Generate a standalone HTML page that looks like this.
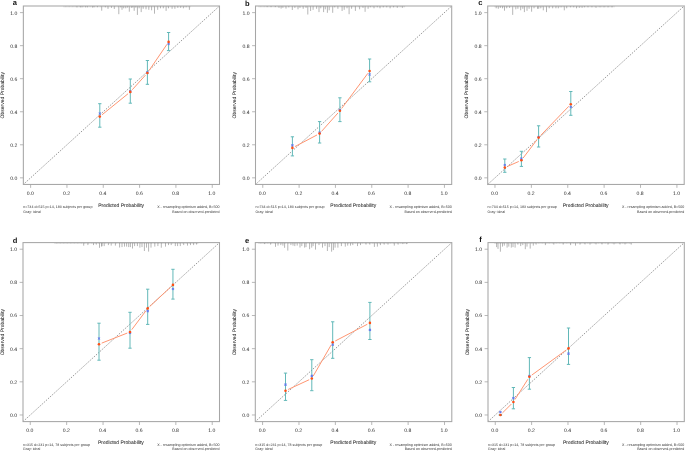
<!DOCTYPE html>
<html><head><meta charset="utf-8"><title>Calibration curves</title><style>
html,body{margin:0;padding:0;background:#fff;width:685px;height:451px;overflow:hidden}
text{font-family:"Liberation Sans",sans-serif;text-rendering:geometricPrecision}
.t{font-size:5px;fill:#2a2a2a;stroke:#2a2a2a;stroke-width:0.05px}
.k{font-size:5.1px;fill:#2a2a2a}
.f{font-size:3.62px;fill:#333}
.L{font-size:7.5px;font-weight:bold;fill:#111}
</style></head><body>
<svg width="685" height="451" viewBox="0 0 685 451" style="display:block;will-change:transform">
<rect width="685" height="451" fill="#fff"/>
<g><path d="M64.00 6.00v1.3M65.40 6.00v1.3M66.80 6.00v1.3M68.20 6.00v1.3M69.60 6.00v1.3M71.00 6.00v1.3M72.40 6.00v1.3M73.80 6.00v1.3M75.20 6.00v1.3M76.60 6.00v1.3M78.00 6.00v1.3M79.40 6.00v1.3M80.80 6.00v1.3M82.20 6.00v1.3M83.60 6.00v1.3M85.00 6.00v1.3M86.40 6.00v1.3M87.80 6.00v1.3M89.20 6.00v1.3M90.60 6.00v1.3M92.00 6.00v1.3M93.40 6.00v1.3M94.80 6.00v1.3M96.20 6.00v1.3M97.60 6.00v1.3M99.00 6.00v1.3M100.40 6.00v1.3M101.80 6.00v1.3M103.20 6.00v1.3M104.60 6.00v1.3M106.00 6.00v1.3M107.40 6.00v1.3M108.80 6.00v1.3M110.20 6.00v1.3M111.60 6.00v1.3M113.00 6.00v1.3M114.40 6.00v1.3M115.80 6.00v1.3M117.20 6.00v1.3M118.60 6.00v1.3M120.00 6.00v1.3M121.40 6.00v1.3M122.80 6.00v1.3M124.20 6.00v1.3M125.60 6.00v1.3M127.00 6.00v1.3M128.40 6.00v1.3M129.80 6.00v1.3M131.20 6.00v1.3M132.60 6.00v1.3M134.00 6.00v1.3M135.40 6.00v1.3M136.80 6.00v1.3M138.20 6.00v1.3M139.60 6.00v1.3M141.00 6.00v1.3M142.40 6.00v1.3M143.80 6.00v1.3M145.20 6.00v1.3M146.60 6.00v1.3M148.00 6.00v1.3M149.40 6.00v1.3M150.80 6.00v1.3M152.20 6.00v1.3M153.60 6.00v1.3M155.00 6.00v1.3M156.40 6.00v1.3M157.80 6.00v1.3M159.20 6.00v1.3M160.60 6.00v1.3M162.00 6.00v1.3M163.40 6.00v1.3M164.80 6.00v1.3M166.20 6.00v1.3M167.60 6.00v1.3M169.00 6.00v1.3M170.40 6.00v1.3M171.80 6.00v1.3M173.20 6.00v1.3M174.60 6.00v1.3M176.00 6.00v1.3M177.40 6.00v1.3M178.80 6.00v1.3M180.20 6.00v1.3M181.60 6.00v1.3M183.00 6.00v1.3M184.40 6.00v1.3M185.80 6.00v1.3M187.20 6.00v1.3M188.60 6.00v1.3M190.00 6.00v1.3" stroke="#b8b8b8" stroke-width="0.6" fill="none"/><path d="M77.00 6.00v1.40M80.50 6.00v1.30M82.00 6.00v1.30M85.50 6.00v1.30M87.50 6.00v1.30M92.50 6.00v1.50M94.00 6.00v1.30M97.50 6.00v1.20M101.70 6.00v4.70M105.50 6.00v1.30M108.00 6.00v2.90M111.50 6.00v1.80M114.30 6.00v3.00M118.80 6.00v8.20M120.60 6.00v1.30M122.00 6.00v3.80M123.70 6.00v2.30M125.80 6.00v2.30M127.50 6.00v1.50M129.30 6.00v5.70M131.40 6.00v1.80M132.80 6.00v1.50M134.20 6.00v4.80M135.80 6.00v1.50M137.40 6.00v8.90M139.10 6.00v2.30M141.20 6.00v6.10M143.20 6.00v2.80M146.00 6.00v3.30M148.80 6.00v3.80M151.60 6.00v4.30M154.50 6.00v7.70M157.70 6.00v3.80M160.50 6.00v2.30M163.30 6.00v2.30M166.10 6.00v4.90M168.50 6.00v2.30M172.10 6.00v2.80M174.90 6.00v2.80M177.80 6.00v1.80M180.60 6.00v1.80M183.40 6.00v2.30M186.20 6.00v1.30M189.40 6.00v3.80" stroke="#858585" stroke-width="0.6" fill="none"/><line x1="23.35" y1="184.45" x2="219.5" y2="6.0" stroke="#7e7e7e" stroke-width="0.85" stroke-dasharray="1.3 1.3"/><rect x="23.35" y="6.0" width="196.15" height="178.45" fill="none" stroke="#a6a6a6" stroke-width="1.05"/><path d="M30.61 184.45v3.4M23.35 177.84h-3.4M66.94 184.45v3.4M23.35 144.79h-3.4M103.26 184.45v3.4M23.35 111.75h-3.4M139.59 184.45v3.4M23.35 78.70h-3.4M175.91 184.45v3.4M23.35 45.66h-3.4M212.24 184.45v3.4M23.35 12.61h-3.4" stroke="#a6a6a6" stroke-width="0.8" fill="none"/><text x="30.21" y="195.15" text-anchor="middle" class="k">0.0</text><text x="17.35" y="179.74" text-anchor="end" class="k">0.0</text><text x="66.54" y="195.15" text-anchor="middle" class="k">0.2</text><text x="17.35" y="146.69" text-anchor="end" class="k">0.2</text><text x="102.86" y="195.15" text-anchor="middle" class="k">0.4</text><text x="17.35" y="113.65" text-anchor="end" class="k">0.4</text><text x="139.19" y="195.15" text-anchor="middle" class="k">0.6</text><text x="17.35" y="80.60" text-anchor="end" class="k">0.6</text><text x="175.51" y="195.15" text-anchor="middle" class="k">0.8</text><text x="17.35" y="47.56" text-anchor="end" class="k">0.8</text><text x="211.84" y="195.15" text-anchor="middle" class="k">1.0</text><text x="17.35" y="14.51" text-anchor="end" class="k">1.0</text><text x="121.12" y="207.05" text-anchor="middle" class="t">Predicted Probability</text><text transform="translate(4.05,95.22) rotate(-90)" text-anchor="middle" class="t">Observed Probability</text><text x="23.25" y="208.45" class="f">n=734 d=515 p=14, 183 subjects per group</text><text x="23.25" y="212.75" class="f">Gray: ideal</text><text x="219.50" y="208.45" text-anchor="end" class="f">X - resampling optimism added, B=500</text><text x="219.50" y="212.75" text-anchor="end" class="f">Based on observed-predicted</text><text x="12.80" y="4.90" class="L">a</text><path d="M102.05 114.77L128.05 93.73M132.25 89.75L145.45 75.15M149.03 70.60L166.97 44.30" stroke="#ff9672" stroke-width="1.0" fill="none"/><path d="M99.80 103.70V127.20M98.15 103.70h3.3M98.15 127.20h3.3M130.30 79.00V103.20M128.65 79.00h3.3M128.65 103.20h3.3M147.40 60.50V84.30M145.75 60.50h3.3M145.75 84.30h3.3M168.60 32.50V50.60M166.95 32.50h3.3M166.95 50.60h3.3" stroke="#62b8b8" stroke-width="1.0" fill="none"/><path d="M98.80 112.50l2.0 2.0M98.80 114.50l2.0 -2.0M129.30 90.40l2.0 2.0M129.30 92.40l2.0 -2.0M146.40 71.40l2.0 2.0M146.40 73.40l2.0 -2.0M167.60 43.00l2.0 2.0M167.60 45.00l2.0 -2.0" stroke="#6076ee" stroke-width="1.05" fill="none"/><circle cx="99.80" cy="116.60" r="1.3" fill="#ff4e14"/><circle cx="130.30" cy="91.90" r="1.3" fill="#ff4e14"/><circle cx="147.40" cy="73.00" r="1.3" fill="#ff4e14"/><circle cx="168.60" cy="41.90" r="1.3" fill="#ff4e14"/></g>
<g><path d="M259.00 6.00v1.3M260.40 6.00v1.3M261.80 6.00v1.3M263.20 6.00v1.3M264.60 6.00v1.3M266.00 6.00v1.3M267.40 6.00v1.3M268.80 6.00v1.3M270.20 6.00v1.3M271.60 6.00v1.3M273.00 6.00v1.3M274.40 6.00v1.3M275.80 6.00v1.3M277.20 6.00v1.3M278.60 6.00v1.3M280.00 6.00v1.3M281.40 6.00v1.3M282.80 6.00v1.3M284.20 6.00v1.3M285.60 6.00v1.3M287.00 6.00v1.3M288.40 6.00v1.3M289.80 6.00v1.3M291.20 6.00v1.3M292.60 6.00v1.3M294.00 6.00v1.3M295.40 6.00v1.3M296.80 6.00v1.3M298.20 6.00v1.3M299.60 6.00v1.3M301.00 6.00v1.3M302.40 6.00v1.3M303.80 6.00v1.3M305.20 6.00v1.3M306.60 6.00v1.3M308.00 6.00v1.3M309.40 6.00v1.3M310.80 6.00v1.3M312.20 6.00v1.3M313.60 6.00v1.3M315.00 6.00v1.3M316.40 6.00v1.3M317.80 6.00v1.3M319.20 6.00v1.3M320.60 6.00v1.3M322.00 6.00v1.3M323.40 6.00v1.3M324.80 6.00v1.3M326.20 6.00v1.3M327.60 6.00v1.3M329.00 6.00v1.3M330.40 6.00v1.3M331.80 6.00v1.3M333.20 6.00v1.3M334.60 6.00v1.3M336.00 6.00v1.3M337.40 6.00v1.3M338.80 6.00v1.3M340.20 6.00v1.3M341.60 6.00v1.3M343.00 6.00v1.3M344.40 6.00v1.3M345.80 6.00v1.3M347.20 6.00v1.3M348.60 6.00v1.3M350.00 6.00v1.3M351.40 6.00v1.3M352.80 6.00v1.3M354.20 6.00v1.3M355.60 6.00v1.3M357.00 6.00v1.3M358.40 6.00v1.3M359.80 6.00v1.3M361.20 6.00v1.3M362.60 6.00v1.3M364.00 6.00v1.3M365.40 6.00v1.3M366.80 6.00v1.3M368.20 6.00v1.3M369.60 6.00v1.3M371.00 6.00v1.3M372.40 6.00v1.3M373.80 6.00v1.3M375.20 6.00v1.3M376.60 6.00v1.3M378.00 6.00v1.3M379.40 6.00v1.3M380.80 6.00v1.3M382.20 6.00v1.3M383.60 6.00v1.3M385.00 6.00v1.3M386.40 6.00v1.3M387.80 6.00v1.3M389.20 6.00v1.3M390.60 6.00v1.3M392.00 6.00v1.3M393.40 6.00v1.3M394.80 6.00v1.3M396.20 6.00v1.3M397.60 6.00v1.3M399.00 6.00v1.3M400.40 6.00v1.3M401.80 6.00v1.3M403.20 6.00v1.3M404.60 6.00v1.3" stroke="#b8b8b8" stroke-width="0.6" fill="none"/><path d="M267.10 6.00v1.10M271.00 6.00v1.10M275.50 6.00v1.10M279.00 6.00v1.80M281.10 6.00v2.60M282.90 6.00v1.80M286.00 6.00v2.60M288.80 6.00v1.30M292.30 6.00v4.00M294.80 6.00v1.80M298.00 6.00v3.30M300.00 6.00v1.80M303.20 6.00v2.80M306.00 6.00v1.80M307.80 6.00v8.50M310.60 6.00v5.00M313.10 6.00v3.80M316.60 6.00v2.80M319.00 6.00v6.10M320.80 6.00v2.30M323.60 6.00v6.10M325.30 6.00v3.30M327.40 6.00v6.80M329.20 6.00v4.30M332.70 6.00v6.80M334.80 6.00v1.30M337.90 6.00v2.80M342.10 6.00v5.00M344.20 6.00v3.80M347.00 6.00v2.30M349.10 6.00v8.20M351.60 6.00v2.80M355.40 6.00v4.90M359.60 6.00v3.30M363.00 6.00v1.80M365.10 6.00v5.80M368.10 6.00v2.80M370.60 6.00v1.30M374.00 6.00v2.30M377.40 6.00v1.30M380.00 6.00v2.30M383.30 6.00v1.30M386.70 6.00v1.30M390.10 6.00v2.30M393.50 6.00v1.30M397.30 6.00v1.80M402.40 6.00v1.80" stroke="#858585" stroke-width="0.6" fill="none"/><line x1="255.5" y1="184.45" x2="451.7" y2="6.0" stroke="#7e7e7e" stroke-width="0.85" stroke-dasharray="1.3 1.3"/><rect x="255.5" y="6.0" width="196.20" height="178.45" fill="none" stroke="#a6a6a6" stroke-width="1.05"/><path d="M262.77 184.45v3.4M255.50 177.84h-3.4M299.10 184.45v3.4M255.50 144.79h-3.4M335.43 184.45v3.4M255.50 111.75h-3.4M371.77 184.45v3.4M255.50 78.70h-3.4M408.10 184.45v3.4M255.50 45.66h-3.4M444.43 184.45v3.4M255.50 12.61h-3.4" stroke="#a6a6a6" stroke-width="0.8" fill="none"/><text x="262.37" y="195.15" text-anchor="middle" class="k">0.0</text><text x="249.50" y="179.74" text-anchor="end" class="k">0.0</text><text x="298.70" y="195.15" text-anchor="middle" class="k">0.2</text><text x="249.50" y="146.69" text-anchor="end" class="k">0.2</text><text x="335.03" y="195.15" text-anchor="middle" class="k">0.4</text><text x="249.50" y="113.65" text-anchor="end" class="k">0.4</text><text x="371.37" y="195.15" text-anchor="middle" class="k">0.6</text><text x="249.50" y="80.60" text-anchor="end" class="k">0.6</text><text x="407.70" y="195.15" text-anchor="middle" class="k">0.8</text><text x="249.50" y="47.56" text-anchor="end" class="k">0.8</text><text x="444.03" y="195.15" text-anchor="middle" class="k">1.0</text><text x="249.50" y="14.51" text-anchor="end" class="k">1.0</text><text x="353.30" y="207.05" text-anchor="middle" class="t">Predicted Probability</text><text transform="translate(236.20,95.22) rotate(-90)" text-anchor="middle" class="t">Observed Probability</text><text x="255.40" y="208.45" class="f">n=734 d=515 p=14, 183 subjects per group</text><text x="255.40" y="212.75" class="f">Gray: ideal</text><text x="451.70" y="208.45" text-anchor="end" class="f">X - resampling optimism added, B=500</text><text x="451.70" y="212.75" text-anchor="end" class="f">Based on observed-predicted</text><text x="244.90" y="5.70" class="L">b</text><path d="M294.97 146.55L317.03 134.95M321.53 131.43L337.97 112.97M341.63 108.48L367.87 73.32" stroke="#ff9672" stroke-width="1.0" fill="none"/><path d="M292.40 136.80V155.90M290.75 136.80h3.3M290.75 155.90h3.3M319.60 121.60V143.00M317.95 121.60h3.3M317.95 143.00h3.3M339.90 97.80V121.60M338.25 97.80h3.3M338.25 121.60h3.3M369.60 59.00V81.80M367.95 59.00h3.3M367.95 81.80h3.3" stroke="#62b8b8" stroke-width="1.0" fill="none"/><path d="M291.40 144.30l2.0 2.0M291.40 146.30l2.0 -2.0M318.60 131.60l2.0 2.0M318.60 133.60l2.0 -2.0M338.90 109.20l2.0 2.0M338.90 111.20l2.0 -2.0M368.60 73.50l2.0 2.0M368.60 75.50l2.0 -2.0" stroke="#6076ee" stroke-width="1.05" fill="none"/><circle cx="292.40" cy="147.90" r="1.3" fill="#ff4e14"/><circle cx="319.60" cy="133.60" r="1.3" fill="#ff4e14"/><circle cx="339.90" cy="110.80" r="1.3" fill="#ff4e14"/><circle cx="369.60" cy="71.00" r="1.3" fill="#ff4e14"/></g>
<g><path d="M495.00 6.00v1.3M496.40 6.00v1.3M497.80 6.00v1.3M499.20 6.00v1.3M500.60 6.00v1.3M502.00 6.00v1.3M503.40 6.00v1.3M504.80 6.00v1.3M506.20 6.00v1.3M507.60 6.00v1.3M509.00 6.00v1.3M510.40 6.00v1.3M511.80 6.00v1.3M513.20 6.00v1.3M514.60 6.00v1.3M516.00 6.00v1.3M517.40 6.00v1.3M518.80 6.00v1.3M520.20 6.00v1.3M521.60 6.00v1.3M523.00 6.00v1.3M524.40 6.00v1.3M525.80 6.00v1.3M527.20 6.00v1.3M528.60 6.00v1.3M530.00 6.00v1.3M531.40 6.00v1.3M532.80 6.00v1.3M534.20 6.00v1.3M535.60 6.00v1.3M537.00 6.00v1.3M538.40 6.00v1.3M539.80 6.00v1.3M541.20 6.00v1.3M542.60 6.00v1.3M544.00 6.00v1.3M545.40 6.00v1.3M546.80 6.00v1.3M548.20 6.00v1.3M549.60 6.00v1.3M551.00 6.00v1.3M552.40 6.00v1.3M553.80 6.00v1.3M555.20 6.00v1.3M556.60 6.00v1.3M558.00 6.00v1.3M559.40 6.00v1.3M560.80 6.00v1.3M562.20 6.00v1.3M563.60 6.00v1.3M565.00 6.00v1.3M566.40 6.00v1.3M567.80 6.00v1.3M569.20 6.00v1.3M570.60 6.00v1.3M572.00 6.00v1.3M573.40 6.00v1.3M574.80 6.00v1.3M576.20 6.00v1.3M577.60 6.00v1.3M579.00 6.00v1.3M580.40 6.00v1.3M581.80 6.00v1.3M583.20 6.00v1.3M584.60 6.00v1.3M586.00 6.00v1.3M587.40 6.00v1.3M588.80 6.00v1.3M590.20 6.00v1.3M591.60 6.00v1.3M593.00 6.00v1.3M594.40 6.00v1.3M595.80 6.00v1.3M597.20 6.00v1.3M598.60 6.00v1.3M600.00 6.00v1.3M601.40 6.00v1.3M602.80 6.00v1.3M604.20 6.00v1.3M605.60 6.00v1.3M607.00 6.00v1.3M608.40 6.00v1.3M609.80 6.00v1.3M611.20 6.00v1.3M612.60 6.00v1.3M614.00 6.00v1.3" stroke="#b8b8b8" stroke-width="0.6" fill="none"/><path d="M496.20 6.00v2.30M498.30 6.00v2.80M500.40 6.00v1.80M502.50 6.00v2.30M504.50 6.00v4.70M506.70 6.00v2.30M509.50 6.00v1.80M512.70 6.00v8.90M515.80 6.00v3.30M517.90 6.00v2.80M520.70 6.00v4.30M522.80 6.00v2.80M524.40 6.00v6.10M527.00 6.00v4.80M529.10 6.00v2.80M531.60 6.00v5.70M534.00 6.00v2.30M537.50 6.00v2.80M538.70 6.00v2.80M540.80 6.00v2.30M543.30 6.00v4.30M546.50 6.00v6.10M549.20 6.00v2.30M552.70 6.00v2.30M555.90 6.00v2.30M558.30 6.00v2.30M561.10 6.00v1.30M564.30 6.00v4.30M566.70 6.00v2.30M570.60 6.00v1.30M573.70 6.00v1.30M576.50 6.00v2.30M579.30 6.00v1.80M582.10 6.00v1.80M584.60 6.00v1.30M588.00 6.00v1.30M592.00 6.00v1.30M596.00 6.00v1.80M600.00 6.00v1.30M604.00 6.00v1.30M608.00 6.00v1.30M612.00 6.00v1.30" stroke="#858585" stroke-width="0.6" fill="none"/><line x1="487.7" y1="184.45" x2="684.2" y2="6.0" stroke="#7e7e7e" stroke-width="0.85" stroke-dasharray="1.3 1.3"/><rect x="487.7" y="6.0" width="196.50" height="178.45" fill="none" stroke="#a6a6a6" stroke-width="1.05"/><path d="M494.98 184.45v3.4M487.70 177.84h-3.4M531.37 184.45v3.4M487.70 144.79h-3.4M567.76 184.45v3.4M487.70 111.75h-3.4M604.14 184.45v3.4M487.70 78.70h-3.4M640.53 184.45v3.4M487.70 45.66h-3.4M676.92 184.45v3.4M487.70 12.61h-3.4" stroke="#a6a6a6" stroke-width="0.8" fill="none"/><text x="494.58" y="195.15" text-anchor="middle" class="k">0.0</text><text x="481.70" y="179.74" text-anchor="end" class="k">0.0</text><text x="530.97" y="195.15" text-anchor="middle" class="k">0.2</text><text x="481.70" y="146.69" text-anchor="end" class="k">0.2</text><text x="567.36" y="195.15" text-anchor="middle" class="k">0.4</text><text x="481.70" y="113.65" text-anchor="end" class="k">0.4</text><text x="603.74" y="195.15" text-anchor="middle" class="k">0.6</text><text x="481.70" y="80.60" text-anchor="end" class="k">0.6</text><text x="640.13" y="195.15" text-anchor="middle" class="k">0.8</text><text x="481.70" y="47.56" text-anchor="end" class="k">0.8</text><text x="676.52" y="195.15" text-anchor="middle" class="k">1.0</text><text x="481.70" y="14.51" text-anchor="end" class="k">1.0</text><text x="585.65" y="207.05" text-anchor="middle" class="t">Predicted Probability</text><text transform="translate(468.40,95.22) rotate(-90)" text-anchor="middle" class="t">Observed Probability</text><text x="487.60" y="208.45" class="f">n=734 d=515 p=14, 183 subjects per group</text><text x="487.60" y="212.75" class="f">Gray: ideal</text><text x="684.20" y="208.45" text-anchor="end" class="f">X - resampling optimism added, B=500</text><text x="684.20" y="212.75" text-anchor="end" class="f">Based on observed-predicted</text><text x="478.30" y="4.90" class="L">c</text><path d="M507.45 166.43L518.75 161.47M523.15 157.99L536.85 139.91M540.61 135.51L568.79 106.29" stroke="#ff9672" stroke-width="1.0" fill="none"/><path d="M504.80 159.00V172.30M503.15 159.00h3.3M503.15 172.30h3.3M521.40 151.30V166.40M519.75 151.30h3.3M519.75 166.40h3.3M538.60 125.80V147.00M536.95 125.80h3.3M536.95 147.00h3.3M570.80 91.50V115.30M569.15 91.50h3.3M569.15 115.30h3.3" stroke="#62b8b8" stroke-width="1.0" fill="none"/><path d="M503.80 164.00l2.0 2.0M503.80 166.00l2.0 -2.0M520.40 157.60l2.0 2.0M520.40 159.60l2.0 -2.0M537.60 136.00l2.0 2.0M537.60 138.00l2.0 -2.0M569.80 106.00l2.0 2.0M569.80 108.00l2.0 -2.0" stroke="#6076ee" stroke-width="1.05" fill="none"/><circle cx="504.80" cy="167.60" r="1.3" fill="#ff4e14"/><circle cx="521.40" cy="160.30" r="1.3" fill="#ff4e14"/><circle cx="538.60" cy="137.60" r="1.3" fill="#ff4e14"/><circle cx="570.80" cy="104.20" r="1.3" fill="#ff4e14"/></g>
<g><path d="M55.00 242.60v1.3M56.40 242.60v1.3M57.80 242.60v1.3M59.20 242.60v1.3M60.60 242.60v1.3M62.00 242.60v1.3M63.40 242.60v1.3M64.80 242.60v1.3M66.20 242.60v1.3M67.60 242.60v1.3M69.00 242.60v1.3M70.40 242.60v1.3M71.80 242.60v1.3M73.20 242.60v1.3M74.60 242.60v1.3M76.00 242.60v1.3M77.40 242.60v1.3M78.80 242.60v1.3M80.20 242.60v1.3M81.60 242.60v1.3M83.00 242.60v1.3M84.40 242.60v1.3M85.80 242.60v1.3M87.20 242.60v1.3M88.60 242.60v1.3M90.00 242.60v1.3M91.40 242.60v1.3M92.80 242.60v1.3M94.20 242.60v1.3M95.60 242.60v1.3M97.00 242.60v1.3M98.40 242.60v1.3M99.80 242.60v1.3M101.20 242.60v1.3M102.60 242.60v1.3M104.00 242.60v1.3M105.40 242.60v1.3M106.80 242.60v1.3M108.20 242.60v1.3M109.60 242.60v1.3M111.00 242.60v1.3M112.40 242.60v1.3M113.80 242.60v1.3M115.20 242.60v1.3M116.60 242.60v1.3M118.00 242.60v1.3M119.40 242.60v1.3M120.80 242.60v1.3M122.20 242.60v1.3M123.60 242.60v1.3M125.00 242.60v1.3M126.40 242.60v1.3M127.80 242.60v1.3M129.20 242.60v1.3M130.60 242.60v1.3M132.00 242.60v1.3M133.40 242.60v1.3M134.80 242.60v1.3M136.20 242.60v1.3M137.60 242.60v1.3M139.00 242.60v1.3M140.40 242.60v1.3M141.80 242.60v1.3M143.20 242.60v1.3M144.60 242.60v1.3M146.00 242.60v1.3M147.40 242.60v1.3M148.80 242.60v1.3M150.20 242.60v1.3M151.60 242.60v1.3M153.00 242.60v1.3M154.40 242.60v1.3M155.80 242.60v1.3M157.20 242.60v1.3M158.60 242.60v1.3M160.00 242.60v1.3M161.40 242.60v1.3M162.80 242.60v1.3M164.20 242.60v1.3M165.60 242.60v1.3M167.00 242.60v1.3M168.40 242.60v1.3M169.80 242.60v1.3M171.20 242.60v1.3M172.60 242.60v1.3M174.00 242.60v1.3M175.40 242.60v1.3M176.80 242.60v1.3M178.20 242.60v1.3M179.60 242.60v1.3M181.00 242.60v1.3M182.40 242.60v1.3M183.80 242.60v1.3M185.20 242.60v1.3M186.60 242.60v1.3M188.00 242.60v1.3M189.40 242.60v1.3M190.80 242.60v1.3M192.20 242.60v1.3M193.60 242.60v1.3M195.00 242.60v1.3M196.40 242.60v1.3M197.80 242.60v1.3" stroke="#b8b8b8" stroke-width="0.6" fill="none"/><path d="M83.70 242.60v3.10M87.90 242.60v2.50M93.50 242.60v2.50M96.30 242.60v2.00M99.50 242.60v5.20M101.60 242.60v4.00M102.00 242.60v3.50M104.20 242.60v3.50M108.40 242.60v2.50M111.20 242.60v3.00M115.40 242.60v3.00M119.60 242.60v4.90M122.00 242.60v4.50M124.50 242.60v4.00M126.60 242.60v4.00M128.70 242.60v4.50M130.40 242.60v4.50M132.50 242.60v5.90M134.60 242.60v3.50M137.40 242.60v3.50M139.90 242.60v5.00M142.00 242.60v4.50M144.40 242.60v8.40M146.50 242.60v5.00M148.60 242.60v9.00M151.00 242.60v5.00M154.80 242.60v4.00M157.90 242.60v3.50M161.30 242.60v5.10M165.50 242.60v4.00M168.50 242.60v2.50M171.20 242.60v2.50M175.30 242.60v3.50M177.60 242.60v3.50M180.30 242.60v3.50M183.70 242.60v2.50M187.50 242.60v3.00M190.50 242.60v2.50M193.60 242.60v2.50M196.60 242.60v2.00" stroke="#858585" stroke-width="0.6" fill="none"/><line x1="23.0" y1="421.6" x2="219.5" y2="242.6" stroke="#7e7e7e" stroke-width="0.85" stroke-dasharray="1.3 1.3"/><rect x="23.0" y="242.6" width="196.50" height="179.00" fill="none" stroke="#a6a6a6" stroke-width="1.05"/><path d="M30.28 421.60v3.4M23.00 414.97h-3.4M66.67 421.60v3.4M23.00 381.82h-3.4M103.06 421.60v3.4M23.00 348.67h-3.4M139.44 421.60v3.4M23.00 315.53h-3.4M175.83 421.60v3.4M23.00 282.38h-3.4M212.22 421.60v3.4M23.00 249.23h-3.4" stroke="#a6a6a6" stroke-width="0.8" fill="none"/><text x="29.88" y="432.30" text-anchor="middle" class="k">0.0</text><text x="17.00" y="416.87" text-anchor="end" class="k">0.0</text><text x="66.27" y="432.30" text-anchor="middle" class="k">0.2</text><text x="17.00" y="383.72" text-anchor="end" class="k">0.2</text><text x="102.66" y="432.30" text-anchor="middle" class="k">0.4</text><text x="17.00" y="350.57" text-anchor="end" class="k">0.4</text><text x="139.04" y="432.30" text-anchor="middle" class="k">0.6</text><text x="17.00" y="317.43" text-anchor="end" class="k">0.6</text><text x="175.43" y="432.30" text-anchor="middle" class="k">0.8</text><text x="17.00" y="284.28" text-anchor="end" class="k">0.8</text><text x="211.82" y="432.30" text-anchor="middle" class="k">1.0</text><text x="17.00" y="251.13" text-anchor="end" class="k">1.0</text><text x="120.95" y="444.20" text-anchor="middle" class="t">Predicted Probability</text><text transform="translate(3.70,332.10) rotate(-90)" text-anchor="middle" class="t">Observed Probability</text><text x="22.90" y="445.60" class="f">n=315 d=231 p=14, 78 subjects per group</text><text x="22.90" y="449.90" class="f">Gray: ideal</text><text x="219.50" y="445.60" text-anchor="end" class="f">X - resampling optimism added, B=500</text><text x="219.50" y="449.90" text-anchor="end" class="f">Based on observed-predicted</text><text x="12.80" y="242.50" class="L">d</text><path d="M101.70 343.14L127.30 333.06M131.74 329.68L145.96 310.72M149.82 306.42L170.83 286.88" stroke="#ff9672" stroke-width="1.0" fill="none"/><path d="M99.00 323.20V360.20M97.35 323.20h3.3M97.35 360.20h3.3M130.00 312.30V348.20M128.35 312.30h3.3M128.35 348.20h3.3M147.70 289.20V324.40M146.05 289.20h3.3M146.05 324.40h3.3M172.95 269.30V299.10M171.30 269.30h3.3M171.30 299.10h3.3" stroke="#62b8b8" stroke-width="1.0" fill="none"/><path d="M98.00 337.50l2.0 2.0M98.00 339.50l2.0 -2.0M129.00 331.80l2.0 2.0M129.00 333.80l2.0 -2.0M146.70 310.20l2.0 2.0M146.70 312.20l2.0 -2.0M171.95 288.00l2.0 2.0M171.95 290.00l2.0 -2.0" stroke="#6076ee" stroke-width="1.05" fill="none"/><circle cx="99.00" cy="344.20" r="1.3" fill="#ff4e14"/><circle cx="130.00" cy="332.00" r="1.3" fill="#ff4e14"/><circle cx="147.70" cy="308.40" r="1.3" fill="#ff4e14"/><circle cx="172.95" cy="284.90" r="1.3" fill="#ff4e14"/></g>
<g><path d="M259.00 242.60v1.3M260.40 242.60v1.3M261.80 242.60v1.3M263.20 242.60v1.3M264.60 242.60v1.3M266.00 242.60v1.3M267.40 242.60v1.3M268.80 242.60v1.3M270.20 242.60v1.3M271.60 242.60v1.3M273.00 242.60v1.3M274.40 242.60v1.3M275.80 242.60v1.3M277.20 242.60v1.3M278.60 242.60v1.3M280.00 242.60v1.3M281.40 242.60v1.3M282.80 242.60v1.3M284.20 242.60v1.3M285.60 242.60v1.3M287.00 242.60v1.3M288.40 242.60v1.3M289.80 242.60v1.3M291.20 242.60v1.3M292.60 242.60v1.3M294.00 242.60v1.3M295.40 242.60v1.3M296.80 242.60v1.3M298.20 242.60v1.3M299.60 242.60v1.3M301.00 242.60v1.3M302.40 242.60v1.3M303.80 242.60v1.3M305.20 242.60v1.3M306.60 242.60v1.3M308.00 242.60v1.3M309.40 242.60v1.3M310.80 242.60v1.3M312.20 242.60v1.3M313.60 242.60v1.3M315.00 242.60v1.3M316.40 242.60v1.3M317.80 242.60v1.3M319.20 242.60v1.3M320.60 242.60v1.3M322.00 242.60v1.3M323.40 242.60v1.3M324.80 242.60v1.3M326.20 242.60v1.3M327.60 242.60v1.3M329.00 242.60v1.3M330.40 242.60v1.3M331.80 242.60v1.3M333.20 242.60v1.3M334.60 242.60v1.3M336.00 242.60v1.3M337.40 242.60v1.3M338.80 242.60v1.3M340.20 242.60v1.3M341.60 242.60v1.3M343.00 242.60v1.3M344.40 242.60v1.3M345.80 242.60v1.3M347.20 242.60v1.3M348.60 242.60v1.3M350.00 242.60v1.3M351.40 242.60v1.3M352.80 242.60v1.3M354.20 242.60v1.3M355.60 242.60v1.3M357.00 242.60v1.3M358.40 242.60v1.3M359.80 242.60v1.3M361.20 242.60v1.3M362.60 242.60v1.3M364.00 242.60v1.3M365.40 242.60v1.3M366.80 242.60v1.3M368.20 242.60v1.3M369.60 242.60v1.3M371.00 242.60v1.3M372.40 242.60v1.3M373.80 242.60v1.3M375.20 242.60v1.3M376.60 242.60v1.3M378.00 242.60v1.3M379.40 242.60v1.3M380.80 242.60v1.3M382.20 242.60v1.3M383.60 242.60v1.3M385.00 242.60v1.3M386.40 242.60v1.3M387.80 242.60v1.3M389.20 242.60v1.3M390.60 242.60v1.3M392.00 242.60v1.3M393.40 242.60v1.3M394.80 242.60v1.3M396.20 242.60v1.3M397.60 242.60v1.3M399.00 242.60v1.3M400.40 242.60v1.3M401.80 242.60v1.3M403.20 242.60v1.3M404.60 242.60v1.3M406.00 242.60v1.3M407.40 242.60v1.3" stroke="#b8b8b8" stroke-width="0.6" fill="none"/><path d="M264.70 242.60v1.50M270.60 242.60v2.00M275.50 242.60v4.20M278.00 242.60v3.00M280.80 242.60v2.50M282.90 242.60v3.00M284.60 242.60v5.20M287.80 242.60v8.00M290.90 242.60v2.50M293.00 242.60v3.00M294.80 242.60v3.50M297.20 242.60v3.00M300.00 242.60v4.90M301.80 242.60v3.50M304.60 242.60v5.00M306.00 242.60v4.50M309.60 242.60v6.60M311.70 242.60v5.00M313.10 242.60v3.50M315.50 242.60v7.00M319.00 242.60v2.50M322.50 242.60v5.00M325.00 242.60v3.50M327.40 242.60v8.40M329.20 242.60v4.50M331.60 242.60v9.10M333.40 242.60v7.50M335.10 242.60v5.00M337.90 242.60v5.00M341.40 242.60v3.50M345.30 242.60v4.00M347.70 242.60v3.00M350.50 242.60v3.00M352.80 242.60v2.50M357.50 242.60v3.50M360.50 242.60v2.50M366.00 242.60v2.00M369.80 242.60v2.00M374.40 242.60v4.30M377.40 242.60v4.00M380.40 242.60v2.50M384.20 242.60v2.00M388.00 242.60v2.00M394.30 242.60v3.00M398.10 242.60v2.00M402.80 242.60v1.50M406.60 242.60v1.50" stroke="#858585" stroke-width="0.6" fill="none"/><line x1="255.3" y1="421.6" x2="451.8" y2="242.6" stroke="#7e7e7e" stroke-width="0.85" stroke-dasharray="1.3 1.3"/><rect x="255.3" y="242.6" width="196.50" height="179.00" fill="none" stroke="#a6a6a6" stroke-width="1.05"/><path d="M262.58 421.60v3.4M255.30 414.97h-3.4M298.97 421.60v3.4M255.30 381.82h-3.4M335.36 421.60v3.4M255.30 348.67h-3.4M371.74 421.60v3.4M255.30 315.53h-3.4M408.13 421.60v3.4M255.30 282.38h-3.4M444.52 421.60v3.4M255.30 249.23h-3.4" stroke="#a6a6a6" stroke-width="0.8" fill="none"/><text x="262.18" y="432.30" text-anchor="middle" class="k">0.0</text><text x="249.30" y="416.87" text-anchor="end" class="k">0.0</text><text x="298.57" y="432.30" text-anchor="middle" class="k">0.2</text><text x="249.30" y="383.72" text-anchor="end" class="k">0.2</text><text x="334.96" y="432.30" text-anchor="middle" class="k">0.4</text><text x="249.30" y="350.57" text-anchor="end" class="k">0.4</text><text x="371.34" y="432.30" text-anchor="middle" class="k">0.6</text><text x="249.30" y="317.43" text-anchor="end" class="k">0.6</text><text x="407.73" y="432.30" text-anchor="middle" class="k">0.8</text><text x="249.30" y="284.28" text-anchor="end" class="k">0.8</text><text x="444.12" y="432.30" text-anchor="middle" class="k">1.0</text><text x="249.30" y="251.13" text-anchor="end" class="k">1.0</text><text x="353.25" y="444.20" text-anchor="middle" class="t">Predicted Probability</text><text transform="translate(236.00,332.10) rotate(-90)" text-anchor="middle" class="t">Observed Probability</text><text x="255.20" y="445.60" class="f">n=315 d=231 p=14, 78 subjects per group</text><text x="255.20" y="449.90" class="f">Gray: ideal</text><text x="451.80" y="445.60" text-anchor="end" class="f">X - resampling optimism added, B=500</text><text x="451.80" y="449.90" text-anchor="end" class="f">Based on observed-predicted</text><text x="245.00" y="242.70" class="L">e</text><path d="M288.13 389.48L309.17 379.72M313.25 375.99L331.25 344.81M335.27 340.96L367.33 324.24" stroke="#ff9672" stroke-width="1.0" fill="none"/><path d="M285.50 373.10V400.40M283.85 373.10h3.3M283.85 400.40h3.3M311.80 359.70V390.70M310.15 359.70h3.3M310.15 390.70h3.3M332.70 321.80V358.30M331.05 321.80h3.3M331.05 358.30h3.3M369.90 302.40V339.50M368.25 302.40h3.3M368.25 339.50h3.3" stroke="#62b8b8" stroke-width="1.0" fill="none"/><path d="M284.50 383.70l2.0 2.0M284.50 385.70l2.0 -2.0M310.80 374.80l2.0 2.0M310.80 376.80l2.0 -2.0M331.70 343.60l2.0 2.0M331.70 345.60l2.0 -2.0M368.90 328.90l2.0 2.0M368.90 330.90l2.0 -2.0" stroke="#6076ee" stroke-width="1.05" fill="none"/><circle cx="285.50" cy="390.70" r="1.3" fill="#ff4e14"/><circle cx="311.80" cy="378.50" r="1.3" fill="#ff4e14"/><circle cx="332.70" cy="342.30" r="1.3" fill="#ff4e14"/><circle cx="369.90" cy="322.90" r="1.3" fill="#ff4e14"/></g>
<g><path d="M495.00 242.60v1.3M496.40 242.60v1.3M497.80 242.60v1.3M499.20 242.60v1.3M500.60 242.60v1.3M502.00 242.60v1.3M503.40 242.60v1.3M504.80 242.60v1.3M506.20 242.60v1.3M507.60 242.60v1.3M509.00 242.60v1.3M510.40 242.60v1.3M511.80 242.60v1.3M513.20 242.60v1.3M514.60 242.60v1.3M516.00 242.60v1.3M517.40 242.60v1.3M518.80 242.60v1.3M520.20 242.60v1.3M521.60 242.60v1.3M523.00 242.60v1.3M524.40 242.60v1.3M525.80 242.60v1.3M527.20 242.60v1.3M528.60 242.60v1.3M530.00 242.60v1.3M531.40 242.60v1.3M532.80 242.60v1.3M534.20 242.60v1.3M535.60 242.60v1.3M537.00 242.60v1.3M538.40 242.60v1.3M539.80 242.60v1.3M541.20 242.60v1.3M542.60 242.60v1.3M544.00 242.60v1.3M545.40 242.60v1.3M546.80 242.60v1.3M548.20 242.60v1.3M549.60 242.60v1.3M551.00 242.60v1.3M552.40 242.60v1.3M553.80 242.60v1.3M555.20 242.60v1.3M556.60 242.60v1.3M558.00 242.60v1.3M559.40 242.60v1.3M560.80 242.60v1.3M562.20 242.60v1.3M563.60 242.60v1.3M565.00 242.60v1.3M566.40 242.60v1.3M567.80 242.60v1.3M569.20 242.60v1.3M570.60 242.60v1.3M572.00 242.60v1.3M573.40 242.60v1.3M574.80 242.60v1.3M576.20 242.60v1.3M577.60 242.60v1.3M579.00 242.60v1.3M580.40 242.60v1.3M581.80 242.60v1.3M583.20 242.60v1.3M584.60 242.60v1.3M586.00 242.60v1.3M587.40 242.60v1.3M588.80 242.60v1.3M590.20 242.60v1.3M591.60 242.60v1.3M593.00 242.60v1.3M594.40 242.60v1.3M595.80 242.60v1.3M597.20 242.60v1.3M598.60 242.60v1.3M600.00 242.60v1.3M601.40 242.60v1.3M602.80 242.60v1.3M604.20 242.60v1.3M605.60 242.60v1.3M607.00 242.60v1.3M608.40 242.60v1.3M609.80 242.60v1.3M611.20 242.60v1.3M612.60 242.60v1.3M614.00 242.60v1.3M615.40 242.60v1.3M616.80 242.60v1.3M618.20 242.60v1.3M619.60 242.60v1.3M621.00 242.60v1.3M622.40 242.60v1.3M623.80 242.60v1.3M625.20 242.60v1.3M626.60 242.60v1.3M628.00 242.60v1.3M629.40 242.60v1.3M630.80 242.60v1.3" stroke="#b8b8b8" stroke-width="0.6" fill="none"/><path d="M496.60 242.60v4.50M498.00 242.60v6.30M500.40 242.60v9.10M502.50 242.60v4.00M504.30 242.60v3.00M507.10 242.60v5.00M508.80 242.60v4.00M511.30 242.60v5.00M513.00 242.60v4.50M515.10 242.60v5.00M517.90 242.60v2.00M520.70 242.60v3.50M522.80 242.60v2.50M525.30 242.60v6.60M527.00 242.60v4.00M530.20 242.60v6.00M533.30 242.60v3.00M536.10 242.60v2.00M545.40 242.60v2.50M553.80 242.60v2.00M563.20 242.60v2.00M570.60 242.60v2.50M575.50 242.60v3.00M580.00 242.60v2.00M585.00 242.60v1.80M590.00 242.60v2.00M596.00 242.60v1.80M602.00 242.60v1.80M608.00 242.60v2.00M614.00 242.60v1.80M620.00 242.60v1.80M625.00 242.60v1.80M631.20 242.60v2.00" stroke="#858585" stroke-width="0.6" fill="none"/><line x1="488.0" y1="421.6" x2="684.3" y2="242.6" stroke="#7e7e7e" stroke-width="0.85" stroke-dasharray="1.3 1.3"/><rect x="488.0" y="242.6" width="196.30" height="179.00" fill="none" stroke="#a6a6a6" stroke-width="1.05"/><path d="M495.27 421.60v3.4M488.00 414.97h-3.4M531.62 421.60v3.4M488.00 381.82h-3.4M567.97 421.60v3.4M488.00 348.67h-3.4M604.33 421.60v3.4M488.00 315.53h-3.4M640.68 421.60v3.4M488.00 282.38h-3.4M677.03 421.60v3.4M488.00 249.23h-3.4" stroke="#a6a6a6" stroke-width="0.8" fill="none"/><text x="494.87" y="432.30" text-anchor="middle" class="k">0.0</text><text x="482.00" y="416.87" text-anchor="end" class="k">0.0</text><text x="531.22" y="432.30" text-anchor="middle" class="k">0.2</text><text x="482.00" y="383.72" text-anchor="end" class="k">0.2</text><text x="567.57" y="432.30" text-anchor="middle" class="k">0.4</text><text x="482.00" y="350.57" text-anchor="end" class="k">0.4</text><text x="603.93" y="432.30" text-anchor="middle" class="k">0.6</text><text x="482.00" y="317.43" text-anchor="end" class="k">0.6</text><text x="640.28" y="432.30" text-anchor="middle" class="k">0.8</text><text x="482.00" y="284.28" text-anchor="end" class="k">0.8</text><text x="676.63" y="432.30" text-anchor="middle" class="k">1.0</text><text x="482.00" y="251.13" text-anchor="end" class="k">1.0</text><text x="585.85" y="444.20" text-anchor="middle" class="t">Predicted Probability</text><text transform="translate(468.70,332.10) rotate(-90)" text-anchor="middle" class="t">Observed Probability</text><text x="487.90" y="445.60" class="f">n=315 d=231 p=14, 78 subjects per group</text><text x="487.90" y="449.90" class="f">Gray: ideal</text><text x="684.30" y="445.60" text-anchor="end" class="f">X - resampling optimism added, B=500</text><text x="684.30" y="449.90" text-anchor="end" class="f">Based on observed-predicted</text><text x="479.20" y="241.90" class="L">f</text><path d="M502.45 412.95L511.35 404.05M514.95 399.55L527.85 379.25M531.75 375.10L566.15 350.10" stroke="#ff9672" stroke-width="1.0" fill="none"/><path d="M500.40 414.60V415.40M498.75 414.60h3.3M498.75 415.40h3.3M513.40 387.50V408.80M511.75 387.50h3.3M511.75 408.80h3.3M529.40 357.60V389.20M527.75 357.60h3.3M527.75 389.20h3.3M568.50 328.00V364.40M566.85 328.00h3.3M566.85 364.40h3.3" stroke="#62b8b8" stroke-width="1.0" fill="none"/><path d="M499.40 411.10l2.0 2.0M499.40 413.10l2.0 -2.0M512.40 397.20l2.0 2.0M512.40 399.20l2.0 -2.0M528.40 375.00l2.0 2.0M528.40 377.00l2.0 -2.0M567.50 352.70l2.0 2.0M567.50 354.70l2.0 -2.0" stroke="#6076ee" stroke-width="1.05" fill="none"/><circle cx="500.40" cy="415.00" r="1.3" fill="#ff4e14"/><circle cx="513.40" cy="402.00" r="1.3" fill="#ff4e14"/><circle cx="529.40" cy="376.80" r="1.3" fill="#ff4e14"/><circle cx="568.50" cy="348.40" r="1.3" fill="#ff4e14"/></g>
</svg>
</body></html>
